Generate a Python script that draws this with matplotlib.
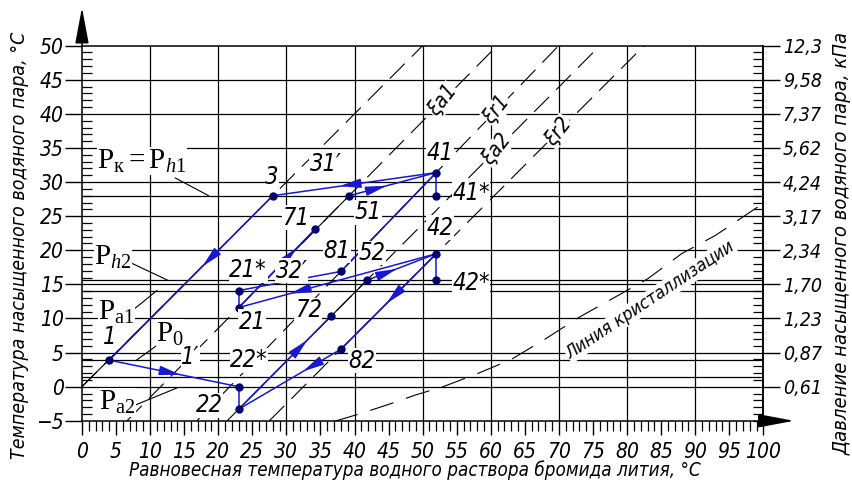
import matplotlib
matplotlib.use('Agg')
import matplotlib.pyplot as plt
from matplotlib.ticker import MultipleLocator

plt.rcParams['mathtext.fontset'] = 'custom'
plt.rcParams['mathtext.rm'] = 'Liberation Serif'
plt.rcParams['mathtext.it'] = 'Liberation Serif:italic'
plt.rcParams['mathtext.bf'] = 'Liberation Serif:bold'

GOST = dict(family='DejaVu Sans', stretch='condensed', style='italic')
BLUE = '#1818d0'
DOT = '#00006e'
DASH = (0, (19, 9))

# right axis: saturation pressure of water vapour for the grid temperatures
sat_temp = [0, 5, 10, 15, 20, 25, 30, 35, 40, 45, 50]
sat_kpa = ['0,61', '0,87', '1,23', '1,70', '2,34', '3,17', '4,24', '5,62', '7,37', '9,58', '12,3']

# cycle states: solution temperature and saturation temperature of vapour
state_name = ['1', '3', '41', '41*', '42', '42*', '51', '52',
              '71', '72', '81', '82', '21', '21*', '22', '22*']
state_t = [4, 28, 52, 52, 52, 52, 39.2, 41.8, 34.2, 36.6, 38, 38, 23, 23, 23, 23]
state_ts = [3.9, 28, 31.4, 28, 19.5, 15.6, 28, 15.6, 23.1, 10.4, 16.9, 5.5, 11.6, 14.1, -3.3, 0]

# pressure levels, as saturation temperature
p_levels = [28, 15.6, 14.1, 3.9, 1.4]

# crystallization line
cryst_t = [37, 41, 45, 49, 53, 58, 63, 68, 73, 78, 83, 88, 93, 100]
cryst_ts = [-5.1, -3.9, -2.6, -1.2, 0.0, 1.9, 4.0, 7.0, 10.2, 13.0, 15.8, 19.5, 22.2, 26.9]

# concentration lines (by two states) and the label placed on each
iso_from = ['21', '81', '22', '82']
iso_to = ['51', '41', '52', '42']
iso_label = ['ξa1', 'ξr1', 'ξa2', 'ξr2']
iso_label_t = [53, 60.9, 60.9, 69.9]

# process lines: start, end, arrow position along the segment (None = no arrow)
proc_from = ['1', '3', '41', '51', '41', '81', '21', '42', '52', '42', '82', '22',
             '41', '42', '21*', '22*']
proc_to = ['22*', '1', '3', '41', '81', '21*', '71', '21', '42', '82', '22', '72',
           '41*', '42*', '21', '22']
proc_arrow = [0.55, 0.43, 0.59, 0.43, None, None, 0.76, 0.74, 0.43, 0.52, 0.37, 0.74,
              None, None, None, None]

S = dict(zip(state_name, zip(state_t, state_ts)))

fig = plt.figure(figsize=(8.53, 4.88), dpi=100)
ax = fig.add_axes([0.0961, 0.1377, 0.7988, 0.7687])
ax.set_xlim(0, 100)
ax.set_ylim(-5, 50)

# grid
for gx in range(10, 100, 10):
    ax.axvline(gx, color='k', lw=0.9, zorder=1)
for gy in range(0, 50, 5):
    ax.axhline(gy, color='k', lw=0.9, zorder=1)
for p in p_levels:
    ax.axhline(p, color='k', lw=0.9, zorder=1)

# water line and concentration lines
ax.axline((0, 0), S['3'], color='k', lw=0.8, ls=DASH, zorder=1)
ax.plot([0, S['3'][0]], [0, S['3'][1]], color='k', lw=0.8, zorder=1)
for a, b in zip(iso_from, iso_to):
    ax.axline(S[a], S[b], color='k', lw=0.8, ls=DASH, zorder=1)
    ax.plot([S[a][0], S[b][0]], [S[a][1], S[b][1]], color='k', lw=0.8, zorder=1)

for a, b, lab, lt in zip(iso_from, iso_to, iso_label, iso_label_t):
    k = (S[b][1] - S[a][1]) / (S[b][0] - S[a][0])
    ly = S[a][1] + k * (lt - S[a][0])
    ax.text(lt, ly, lab, rotation=52, ha='center', va='center', fontsize=15,
            zorder=5, bbox=dict(fc='white', ec='none', pad=0.5), **GOST)

ax.plot(cryst_t, cryst_ts, color='k', lw=0.8, ls=(0, (22, 12)), zorder=1)
ax.text(83.4, 12.7, 'Линия кристаллизации', rotation=33.7, ha='center', va='center',
        fontsize=13, zorder=5, bbox=dict(fc='white', ec='none', pad=0.5), **GOST)

# process lines with arrows
for a, b, t in zip(proc_from, proc_to, proc_arrow):
    (x0, y0), (x1, y1) = S[a], S[b]
    ax.plot([x0, x1], [y0, y1], color=BLUE, lw=1.1, zorder=3)
    if t is not None:
        tx, ty = x0 + t * (x1 - x0), y0 + t * (y1 - y0)
        bx, by = x0 + (t - 0.05) * (x1 - x0), y0 + (t - 0.05) * (y1 - y0)
        ax.annotate('', xy=(tx, ty), xytext=(bx, by),
                    arrowprops=dict(arrowstyle='-|>,head_length=0.9,head_width=0.2',
                                    color=BLUE, lw=1.1, mutation_scale=14,
                                    shrinkA=0, shrinkB=0), zorder=3)

ax.plot(state_t, state_ts, 'o', color=DOT, ms=5, zorder=4)

# state labels
lab_name = ['1', '3', '31′', '71', '51', '81', '52', '41', '41*', '42', '42*',
            '21*', '32′', '21', '72', '22*', '82', '22', '1′']
lab_x = [4.1, 27.9, 35.8, 31.4, 42, 37.4, 42.6, 52.6, 57.1, 52.6, 57.1,
         24.4, 30.8, 25, 33.2, 24.5, 41.1, 18.7, 15.9]
lab_y = [7.3, 30.7, 32.7, 24.8, 25.6, 19.9, 19.6, 34.2, 28.4, 23.3, 15.2,
         17.1, 17.0, 9.5, 11.2, 3.9, 3.8, -2.7, 4.4]
for s, x, y in zip(lab_name, lab_x, lab_y):
    ax.text(x, y, s, ha='center', va='center', fontsize=17,
            zorder=5, bbox=dict(fc='white', ec='none', pad=0.3), **GOST)

# pressure labels with leaders
p_text = [r'$\mathrm{P}_{\mathrm{к}}\mathrm{=}\mathrm{P}_{h\mathrm{1}}$',
          r'$\mathrm{P}_{h\mathrm{2}}$', r'$\mathrm{P}_{\mathrm{a1}}$',
          r'$\mathrm{P}_{\mathrm{0}}$', r'$\mathrm{P}_{\mathrm{a2}}$']
p_x = [8.8, 4.5, 5.0, 12.9, 5.2]
p_y = [33.1, 19.0, 11.0, 7.8, -2.3]
lead_x0 = [13.7, 7.3, 7.8, 11.2, 7.8]
lead_y0 = [30.6, 18.1, 11.5, 6.2, -2.7]
lead_x1 = [18.6, 12.5, 11.0, 8.0, 13.9]
lead_y1 = [28.0, 15.65, 14.1, 3.9, -0.2]
for s, x, y in zip(p_text, p_x, p_y):
    ax.text(x, y, s, ha='center', va='center', fontsize=21, zorder=5,
            bbox=dict(fc='white', ec='none', pad=0.3))
for x0, y0, x1, y1 in zip(lead_x0, lead_y0, lead_x1, lead_y1):
    ax.plot([x0, x1], [y0, y1], color='k', lw=0.8, zorder=2)

# axes, ticks and arrows
for side in ['left', 'bottom', 'right', 'top']:
    ax.spines[side].set_linewidth(1.1)
ax.xaxis.set_minor_locator(MultipleLocator(1))
ax.yaxis.set_minor_locator(MultipleLocator(1))
ax.tick_params(axis='x', which='major', direction='out', length=10, width=1, pad=5)
ax.tick_params(axis='x', which='minor', direction='out', length=7, width=0.9)
ax.tick_params(axis='y', which='major', direction='out', length=12, width=1, pad=1)
ax.tick_params(axis='y', which='minor', direction='in', length=7, width=0.9)
ax.set_xticks(range(0, 101, 5))
ax.set_xticklabels([str(v) for v in range(0, 101, 5)], fontsize=15, **GOST)
ax.set_yticks(range(-5, 51, 5))
ax.set_yticklabels(['−5'] + [str(v) for v in range(0, 51, 5)], fontsize=15, **GOST)

ax2 = ax.twinx()
ax2.set_ylim(-5, 50)
ax2.set_yticks(sat_temp)
ax2.set_yticklabels(sat_kpa, fontsize=14, **GOST)
ax2.yaxis.set_minor_locator(MultipleLocator(1))
ax2.tick_params(axis='y', which='major', direction='out', length=12, width=1, pad=2)
ax2.tick_params(axis='y', which='minor', direction='in', length=7, width=0.9)
for side in ['left', 'top', 'bottom']:
    ax2.spines[side].set_visible(False)
ax2.spines['right'].set_linewidth(1.1)

ax.annotate('', xy=(0, 55.6), xytext=(0, 49.9), annotation_clip=False,
            arrowprops=dict(arrowstyle='-|>,head_length=1.6,head_width=0.3',
                            color='k', lw=1.1, mutation_scale=14, shrinkA=0, shrinkB=0))
ax.annotate('', xy=(104.5, -5), xytext=(99.9, -5), annotation_clip=False,
            arrowprops=dict(arrowstyle='-|>,head_length=1.6,head_width=0.3',
                            color='k', lw=1.1, mutation_scale=14, shrinkA=0, shrinkB=0))

fig.text(0.4865, 0.037, 'Равновесная температура водного раствора бромида лития, °С',
         ha='center', va='center', fontsize=13.5, **GOST)
fig.text(0.0234, 0.498, 'Температура насыщенного водяного пара, °С', rotation=90,
         ha='center', va='center', fontsize=14, **GOST)
fig.text(0.987, 0.502, 'Давление насыщенного водяного пара, кПа', rotation=90,
         ha='center', va='center', fontsize=14.5, **GOST)

fig.savefig('out.png', dpi=100)
